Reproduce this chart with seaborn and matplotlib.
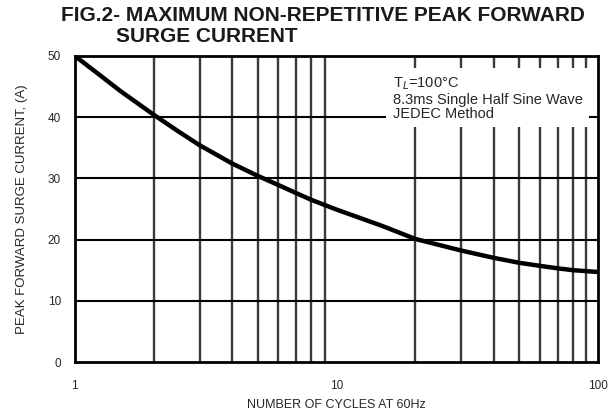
import numpy as np
import pandas as pd
import matplotlib
matplotlib.use("Agg")
import matplotlib.pyplot as plt
import seaborn as sns

# values
cycles = [1, 1.2, 1.5, 2, 2.5, 3, 4, 5, 6, 7, 8, 10, 15, 20, 30, 40, 50, 60, 70, 80, 100]
surge_a = [50, 47.4, 44.2, 40.4, 37.6, 35.4, 32.4, 30.4, 28.9, 27.6, 26.5, 24.9,
           22.2, 20.1, 18.2, 17.0, 16.2, 15.7, 15.3, 15.0, 14.7]

y_ticks = [0, 10, 20, 30, 40, 50]
x_ticks = [1, 10, 100]
x_grid = [2, 3, 4, 5, 6, 7, 8, 9, 20, 30, 40, 50, 60, 70, 80, 90]

note_lines = ["T$_L$=100°C", "8.3ms Single Half Sine Wave", "JEDEC Method"]

df = pd.DataFrame({"cycles": cycles, "surge": surge_a})

sns.set_style("white")
plt.rcParams['font.family'] = ['Liberation Sans', 'DejaVu Sans']

fig = plt.figure(figsize=(6.13, 4.2), dpi=100)
ax = fig.add_axes([0.122, 0.138, 0.854, 0.729])

sns.lineplot(data=df, x="cycles", y="surge", color="black", linewidth=3.2, ax=ax, zorder=5)

ax.set_xscale("log")
ax.set_xlim(1, 100)
ax.set_ylim(0, 50)

# grid: every cycle value vertically, every 10 A horizontally
for xv in x_grid:
    ax.axvline(xv, color="#3a3a3a", linewidth=1.7, zorder=1)
for yv in y_ticks[1:-1]:
    ax.axhline(yv, color="black", linewidth=1.5, zorder=1)

ax.set_xticks(x_ticks)
ax.set_xticklabels([str(v) for v in x_ticks])
ax.xaxis.set_minor_locator(matplotlib.ticker.NullLocator())
ax.set_yticks(y_ticks)
ax.tick_params(axis="both", length=0, labelsize=8.5)
ax.tick_params(axis="x", pad=13)
ax.tick_params(axis="y", pad=10)

for s in ax.spines.values():
    s.set_color("black")
    s.set_linewidth(2)

ax.text(0.607, 0.935, "\n".join(note_lines), transform=ax.transAxes,
        ha="left", va="top", fontsize=10.5, linespacing=1.02, zorder=4,
        bbox=dict(boxstyle="square,pad=0.42", facecolor="white", edgecolor="none"))

ax.set_xlabel("NUMBER OF CYCLES AT 60Hz", fontsize=9, labelpad=5)
ax.set_ylabel("PEAK FORWARD SURGE CURRENT, (A)", fontsize=9.5, labelpad=14)

fig.text(0.1, 0.962, "FIG.2- MAXIMUM NON-REPETITIVE PEAK FORWARD", fontsize=15,
         fontweight="bold", ha="left", va="center", color="#1a1a1a")
fig.text(0.19, 0.912, "SURGE CURRENT", fontsize=15,
         fontweight="bold", ha="left", va="center", color="#1a1a1a")

fig.savefig("out.png", dpi=100)
